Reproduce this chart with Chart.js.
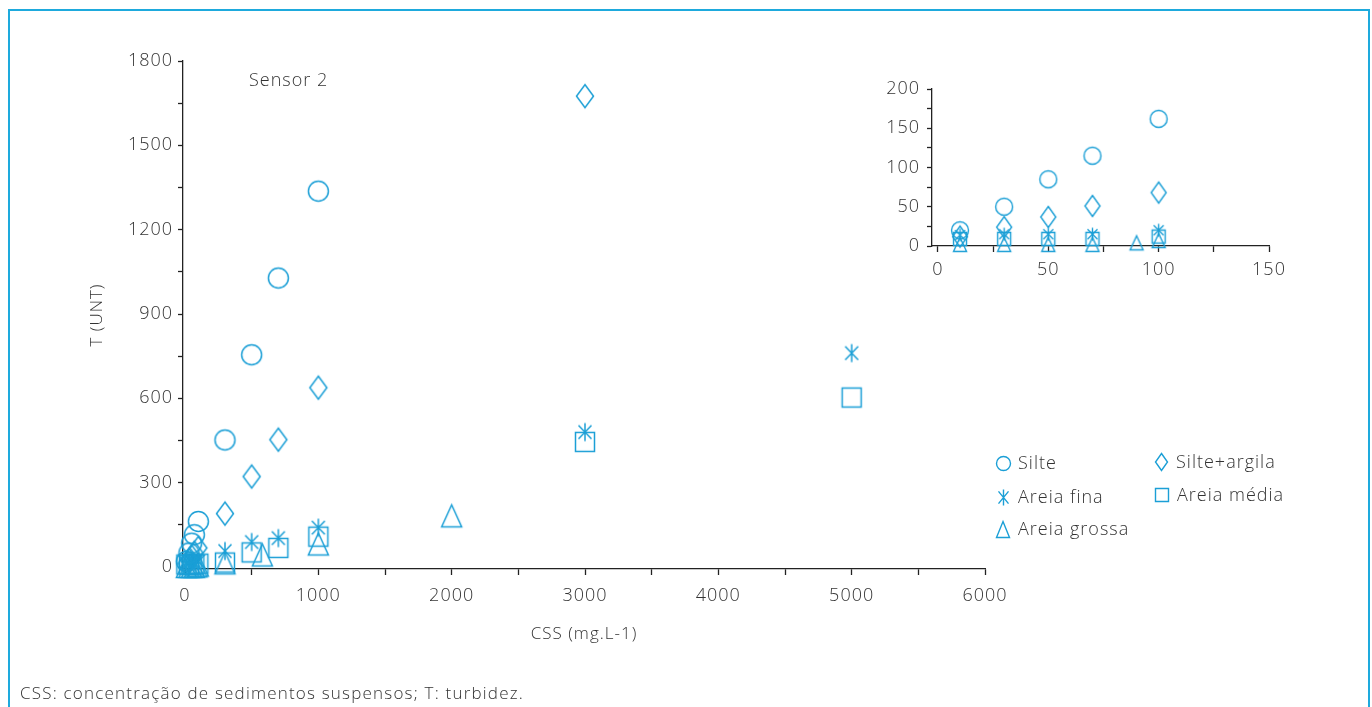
<!DOCTYPE html>
<html>
<head>
<meta charset="utf-8">
<script src="https://cdn.jsdelivr.net/npm/chart.js@4.4.1/dist/chart.umd.min.js"></script>
<style>
  body { margin: 0; width: 1372px; height: 707px; overflow: hidden; background: #fff;
         font-family: 'Open Sans', Lato, sans-serif; font-weight: 300; color: #333; }
  #frame { position: absolute; left: 8px; top: 9px; width: 1358px; height: 720px;
           border: 2px solid #1eaadd; border-bottom: none; }
  canvas { position: absolute; left: 0; top: 0; }
  .txt { position: absolute; white-space: nowrap; }
</style>
</head>
<body>
<div id="frame"></div>
<canvas id="main" width="1372" height="707"></canvas>
<canvas id="inset" width="1372" height="707"></canvas>
<div class="txt" style="left:249px;top:67px;font-size:18px;line-height:24px;letter-spacing:1px">Sensor 2</div>
<div class="txt" style="left:20px;top:682px;font-size:17px;line-height:22px;letter-spacing:1.2px">CSS: concentração de sedimentos suspensos; T: turbidez.</div>
<script>
// CSS (mg.L-1) vs T (UNT)
var silteCss = [10, 30, 50, 70, 100, 300, 500, 700, 1000];
var silteT = [20, 50, 85, 115, 162, 452, 755, 1028, 1337];
var argilaCss = [10, 30, 50, 70, 100, 300, 500, 700, 1000, 3000];
var argilaT = [12, 24, 37, 51, 68, 190, 322, 453, 638, 1675];
var finaCss = [10, 30, 50, 70, 100, 300, 500, 700, 1000, 3000, 5000];
var finaT = [14, 15, 15, 15, 20, 57, 89, 103, 140, 480, 761];
var mediaCss = [10, 30, 50, 70, 100, 300, 500, 700, 1000, 3000, 5000];
var mediaT = [9, 9, 9, 9, 12, 16, 52, 68, 108, 445, 603];
var grossaCss = [10, 30, 50, 70, 90, 100, 300, 580, 1000, 2000];
var grossaT = [2, 2, 2, 2, 4, 7, 15, 43, 82, 182];

var mainXTicks = [0, 500, 1000, 1500, 2000, 2500, 3000, 3500, 4000, 4500, 5000, 5500, 6000];
var mainYTicks = [0, 150, 300, 450, 600, 750, 900, 1050, 1200, 1350, 1500, 1650, 1800];
var insetXTicks = [0, 25, 50, 75, 100, 125, 150];
var insetYTicks = [0, 25, 50, 75, 100, 125, 150, 175, 200];

var BLUE = '#1b9fd6';
var INK = '#222';
var TXT = '#333';
var FAM = "'Open Sans', Lato, sans-serif";

function marker(shape, w, h, lw) {
    var c = document.createElement('canvas');
    c.width = Math.ceil(w + lw * 2 + 2);
    c.height = Math.ceil(h + lw * 2 + 2);
    var g = c.getContext('2d');
    var cx = c.width / 2, cy = c.height / 2;
    g.strokeStyle = BLUE;
    g.lineWidth = lw;
    g.beginPath();
    if (shape === 'circle') {
        g.ellipse(cx, cy, w / 2, h / 2, 0, 0, Math.PI * 2);
    } else if (shape === 'diamond') {
        g.moveTo(cx, cy - h / 2); g.lineTo(cx + w / 2, cy); g.lineTo(cx, cy + h / 2); g.lineTo(cx - w / 2, cy); g.closePath();
    } else if (shape === 'square') {
        g.rect(cx - w / 2, cy - h / 2, w, h);
    } else if (shape === 'triangle') {
        g.moveTo(cx, cy - h / 2); g.lineTo(cx + w / 2, cy + h / 2); g.lineTo(cx - w / 2, cy + h / 2); g.closePath();
    } else if (shape === 'star') {
        g.moveTo(cx, cy - h / 2); g.lineTo(cx, cy + h / 2);
        g.moveTo(cx - w / 2, cy - h * 0.38); g.lineTo(cx + w / 2, cy + h * 0.38);
        g.moveTo(cx + w / 2, cy - h * 0.38); g.lineTo(cx - w / 2, cy + h * 0.38);
    }
    g.stroke();
    return c;
}

function pts(xs, ys, maxX) {
    var out = [];
    for (var i = 0; i < xs.length; i++) {
        if (maxX === undefined || xs[i] <= maxX) out.push({x: xs[i], y: ys[i]});
    }
    return out;
}

function makeSets(sizes, maxX) {
    var defs = [
        ['Silte', silteCss, silteT, 'circle'],
        ['Silte+argila', argilaCss, argilaT, 'diamond'],
        ['Areia fina', finaCss, finaT, 'star'],
        ['Areia média', mediaCss, mediaT, 'square'],
        ['Areia grossa', grossaCss, grossaT, 'triangle']
    ];
    return defs.map(function (d) {
        var s = sizes[d[3]];
        return {
            label: d[0],
            data: pts(d[1], d[2], maxX),
            pointStyle: marker(d[3], s[0], s[1], s[2]),
            pointRadius: 5,
            showLine: false,
            clip: false
        };
    });
}

function axis(min, max, ticks, every, boxSize, tl, pad, fontSize, title) {
    return {
        type: 'linear', min: min, max: max,
        afterBuildTicks: function (s) { s.ticks = ticks.map(function (v) { return {value: v}; }); },
        afterFit: function (s) { if (s.isHorizontal()) s.height = boxSize; else s.width = boxSize; },
        border: {display: true, color: INK, width: 1.3},
        grid: {drawOnChartArea: false, drawTicks: true, tickLength: tl, tickColor: INK, tickWidth: 1.3},
        ticks: {
            padding: pad, color: TXT, autoSkip: false, maxRotation: 0,
            font: {family: FAM, size: fontSize, weight: '300'},
            callback: function (v) { return v % every === 0 ? String(v) : ''; }
        },
        title: title
    };
}

var mainSizes = {
    circle: [20, 20, 1.5], diamond: [17, 23, 1.5], star: [13, 18, 1.5],
    square: [19, 19, 1.5], triangle: [20, 22, 1.5]
};
var insetSizes = {
    circle: [17, 17, 1.4], diamond: [15, 21, 1.4], star: [10, 13, 1.4],
    square: [13, 13, 1.4], triangle: [13, 14, 1.4]
};
var legendSizes = {
    circle: [14, 14, 1.4], diamond: [12, 17, 1.4], star: [10, 16, 1.4],
    square: [13, 13, 1.4], triangle: [13, 16, 1.4]
};

var legendItems = [
    {label: 'Silte', shape: 'circle', x: 1003, y: 463},
    {label: 'Areia fina', shape: 'star', x: 1003, y: 497},
    {label: 'Areia grossa', shape: 'triangle', x: 1003, y: 529},
    {label: 'Silte+argila', shape: 'diamond', x: 1161, y: 462},
    {label: 'Areia média', shape: 'square', x: 1162, y: 495}
];

// wider letter spacing, closer to the original typeface
var spacingPlugin = {
    id: 'spacing',
    beforeDraw: function (chart) { chart.ctx.letterSpacing = '1px'; }
};

var legendPlugin = {
    id: 'sideLegend',
    afterDraw: function (chart) {
        var ctx = chart.ctx;
        ctx.save();
        ctx.font = '300 18px ' + FAM;
        ctx.fillStyle = TXT;
        ctx.textBaseline = 'middle';
        legendItems.forEach(function (it) {
            var s = legendSizes[it.shape];
            var img = marker(it.shape, s[0], s[1], s[2]);
            ctx.drawImage(img, Math.round(it.x - img.width / 2), Math.round(it.y - img.height / 2));
            ctx.fillText(it.label, it.x + 15, it.y + 1);
        });
        ctx.restore();
    }
};

new Chart(document.getElementById('main'), {
    type: 'scatter',
    data: {datasets: makeSets(mainSizes)},
    options: {
        responsive: false, animation: false, devicePixelRatio: 1,
        events: [],
        layout: {padding: {left: 0, top: 61, right: 1372 - 985, bottom: 707 - 569 - 80}},
        plugins: {legend: {display: false}, tooltip: {enabled: false}},
        scales: {
            x: axis(-15, 6000, mainXTicks, 1000, 80, 6, 10, 18,
                {display: true, text: 'CSS (mg.L-1)', color: TXT, font: {family: FAM, size: 17, weight: '300'}, padding: {top: 0, bottom: 5}}),
            y: axis(-7, 1800, mainYTicks, 300, 183, 5, 5, 18,
                {display: true, text: 'T (UNT)', color: TXT, font: {family: FAM, size: 17, weight: '300'}, padding: {top: 87, bottom: 0}})
        }
    },
    plugins: [spacingPlugin, legendPlugin]
});

new Chart(document.getElementById('inset'), {
    type: 'scatter',
    data: {datasets: makeSets(insetSizes, 150)},
    options: {
        responsive: false, animation: false, devicePixelRatio: 1,
        events: [],
        layout: {padding: {left: 0, top: 89, right: 1372 - 1269, bottom: 707 - 246 - 40}},
        plugins: {legend: {display: false}, tooltip: {enabled: false}},
        scales: {
            x: axis(-2.7, 150, insetXTicks, 50, 40, 6, 7, 18, {display: false}),
            y: axis(0, 200, insetYTicks, 50, 932, 5, 7, 18, {display: false})
        }
    },
    plugins: [spacingPlugin]
});
</script>
</body>
</html>
